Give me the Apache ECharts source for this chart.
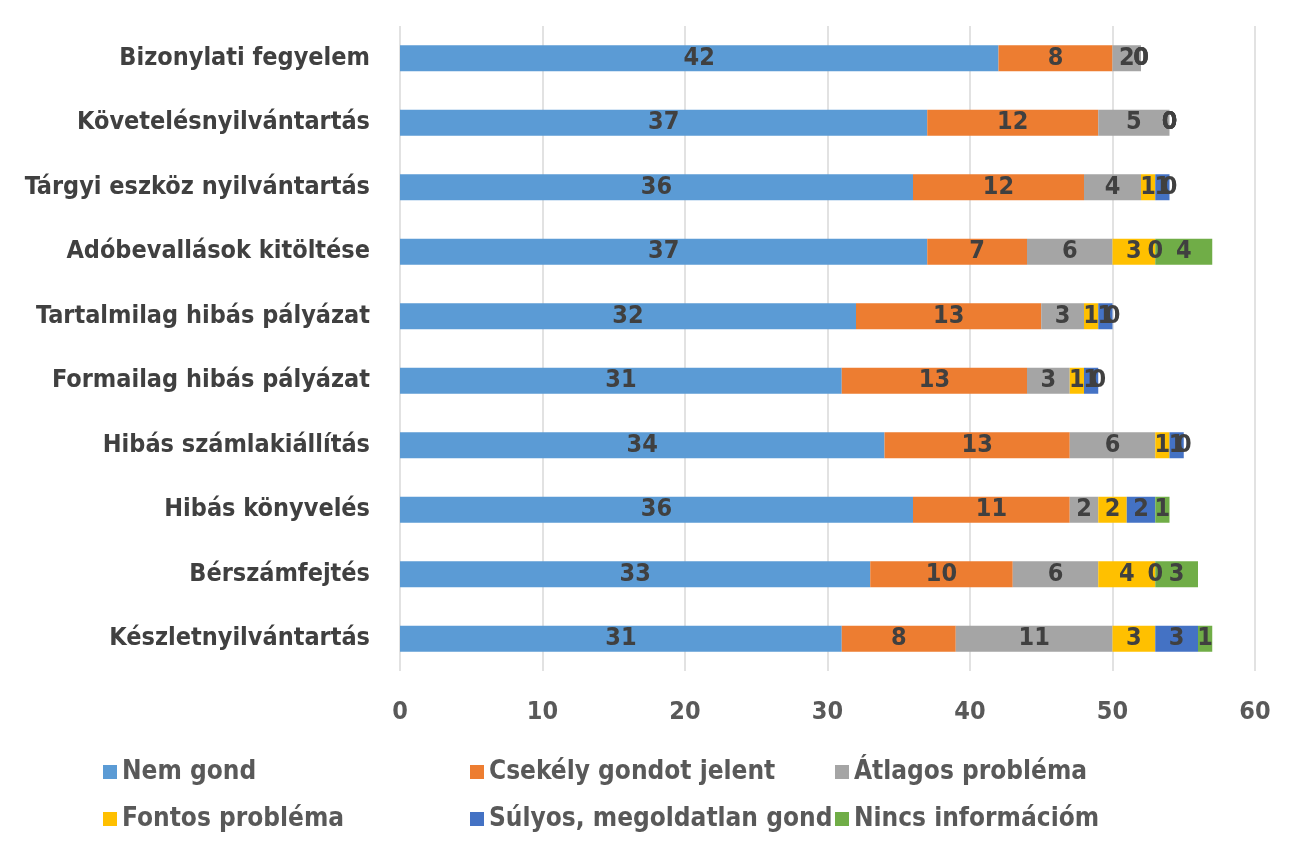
<!DOCTYPE html>
<html>
<head>
<meta charset="utf-8">
<script src="https://cdn.jsdelivr.net/npm/echarts@6/dist/echarts.min.js"></script>
<style>
  html, body { margin: 0; padding: 0; background: #fff; }
  #chart { width: 1290px; height: 841px; }
</style>
</head>
<body>
<div id="chart"></div>
<script>
// Categories, top to bottom
const categories = [
  'Bizonylati fegyelem',
  'Követelésnyilvántartás',
  'Tárgyi eszköz nyilvántartás',
  'Adóbevallások kitöltése',
  'Tartalmilag hibás pályázat',
  'Formailag hibás pályázat',
  'Hibás számlakiállítás',
  'Hibás könyvelés',
  'Bérszámfejtés',
  'Készletnyilvántartás'
];

const seriesNames = [
  'Nem gond',
  'Csekély gondot jelent',
  'Átlagos probléma',
  'Fontos probléma',
  'Súlyos, megoldatlan gond',
  'Nincs információm'
];

const nemGond   = [42, 37, 36, 37, 32, 31, 34, 36, 33, 31];
const csekely   = [8, 12, 12, 7, 13, 13, 13, 11, 10, 8];
const atlagos   = [2, 5, 4, 6, 3, 3, 6, 2, 6, 11];
const fontos    = [0, 0, 1, 3, 1, 1, 1, 2, 4, 3];
const sulyos    = [0, 0, 1, 0, 1, 1, 1, 2, 0, 3];
const nincsInfo = [0, 0, 0, 4, 0, 0, 0, 1, 3, 1];

const xTicks = [0, 10, 20, 30, 40, 50, 60];

const colors = ['#5B9BD5', '#ED7D31', '#A5A5A5', '#FFC000', '#4472C4', '#70AD47'];
const values = [nemGond, csekely, atlagos, fontos, sulyos, nincsInfo];

const FONT = '"Liberation Sans Narrow", "DejaVu Sans Condensed", "Liberation Sans", sans-serif';

const chart = echarts.init(document.getElementById('chart'), null, { renderer: 'canvas' });

const series = seriesNames.map((name, i) => ({
  name: name,
  type: 'bar',
  stack: 'total',
  barWidth: 26,
  itemStyle: { color: colors[i] },
  label: {
    show: true,
    position: 'inside',
    color: '#404040',
    fontFamily: FONT,
    fontWeight: 'bold',
    fontSize: 25
  },
  data: values[i]
}));

// Legend laid out in a 3-column, 2-row grid
const legendCols = [98, 465, 830];
const legendRows = [754, 801];
const legends = seriesNames.map((name, i) => ({
  data: [name],
  left: legendCols[i % 3],
  top: legendRows[Math.floor(i / 3)],
  itemWidth: 14,
  itemHeight: 14,
  itemGap: 8,
  icon: 'rect',
  textStyle: {
    color: '#595959',
    fontFamily: FONT,
    fontWeight: 'bold',
    fontSize: 26
  }
}));

chart.setOption({
  animation: false,
  grid: { left: 400, right: 35, top: 26, bottom: 170, containLabel: false },
  xAxis: {
    type: 'value',
    min: xTicks[0],
    max: xTicks[xTicks.length - 1],
    interval: 10,
    axisLine: { show: false },
    axisTick: { show: false },
    splitLine: { show: true, lineStyle: { color: '#D9D9D9', width: 1.5 } },
    axisLabel: {
      color: '#595959',
      fontFamily: FONT,
      fontWeight: 'bold',
      fontSize: 25,
      margin: 29
    }
  },
  yAxis: {
    type: 'category',
    inverse: true,
    data: categories,
    axisLine: { show: false },
    axisTick: { show: false },
    axisLabel: {
      color: '#404040',
      fontFamily: FONT,
      fontWeight: 'bold',
      fontSize: 25,
      margin: 30
    }
  },
  legend: legends,
  series: series
});
</script>
</body>
</html>
